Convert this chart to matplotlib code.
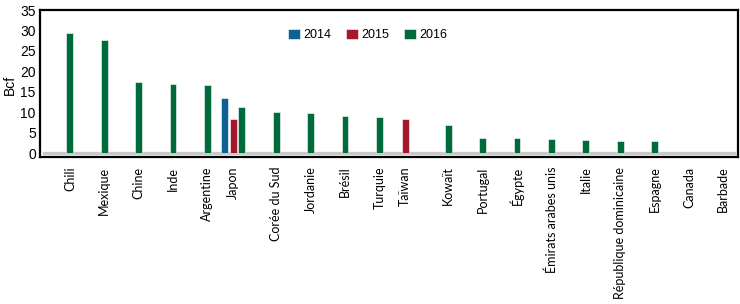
import numpy as np
import matplotlib
matplotlib.use("Agg")
import matplotlib.pyplot as plt

# Data (Bcf)
countries = ["Chili", "Mexique", "Chine", "Inde", "Argentine", "Japon",
             "Corée du Sud", "Jordanie", "Brésil", "Turquie", "Taïwan",
             "Kowaït", "Portugal", "Égypte", "Émirats arabes unis", "Italie",
             "République dominicaine", "Espagne", "Canada", "Barbade"]
years = ["2014", "2015", "2016"]
v2014 = [0, 0, 0, 0, 0, 13.4, 0, 0, 0, 0, 0, 0, 0, 0, 0, 0, 0, 0, 0, 0]
v2015 = [0, 0, 0, 0, 0, 8.3, 0, 0, 0, 0, 8.3, 0, 0, 0, 0, 0, 0, 0, 0, 0]
v2016 = [29.5, 27.6, 17.3, 17.0, 16.7, 11.2, 10.1, 9.9, 9.2, 8.8, 0,
         7.0, 3.7, 3.6, 3.4, 3.3, 2.9, 2.9, 0, 0]
colors = ["#0b6191", "#a3182b", "#006b3a"]

fig = plt.figure(figsize=(7.4, 3.04), dpi=100)
ax = fig.add_axes([0.054, 0.484, 0.943, 0.483])

x = np.arange(len(countries))
step = 0.25
width = 0.2
offsets = [-2 * step, -step, 0]
series = [v2014, v2015, v2016]

for vals, off, col, lab in zip(series, offsets, colors, years):
    vals = np.array(vals)
    mask = vals > 0
    ax.bar(x[mask] + off, vals[mask], width=width, color=col,
           edgecolor="white", linewidth=0.4, label=lab, zorder=3)

# label sits under the middle of the bars that exist
tick_pos = []
for i in range(len(countries)):
    present = [x[i] + off for vals, off in zip(series, offsets) if vals[i] > 0]
    tick_pos.append(np.mean(present) if present else x[i])

ax.axhline(0, color="#c8c8c8", linewidth=2.4, zorder=2, xmin=0.006, xmax=0.995)

ax.set_xlim(-0.87, 19.42)
ax.set_ylim(-0.9, 35)
ax.set_yticks(np.arange(0, 36, 5))
ax.set_xticks(tick_pos)
ax.set_xticklabels(countries, rotation=90, fontsize=9, family="Lato")
ax.tick_params(axis="x", length=0, pad=7)
ax.tick_params(axis="y", length=0, pad=3, labelsize=10)
for t in ax.get_yticklabels():
    t.set_family("Liberation Sans")
fig.text(10 / 740, 1 - 85 / 304, "Bcf", rotation=90, ha="center", va="center",
         fontsize=10, family="Liberation Sans")

for s in ax.spines.values():
    s.set_linewidth(1.6)
    s.set_color("black")

ax.legend(loc="upper center", bbox_to_anchor=(0.47, 0.95), ncol=3, frameon=False,
          handlelength=0.9, handleheight=0.9, handletextpad=0.3, columnspacing=1.2,
          prop={"family": "Liberation Sans", "size": 9})

fig.savefig("out.png", dpi=100)
